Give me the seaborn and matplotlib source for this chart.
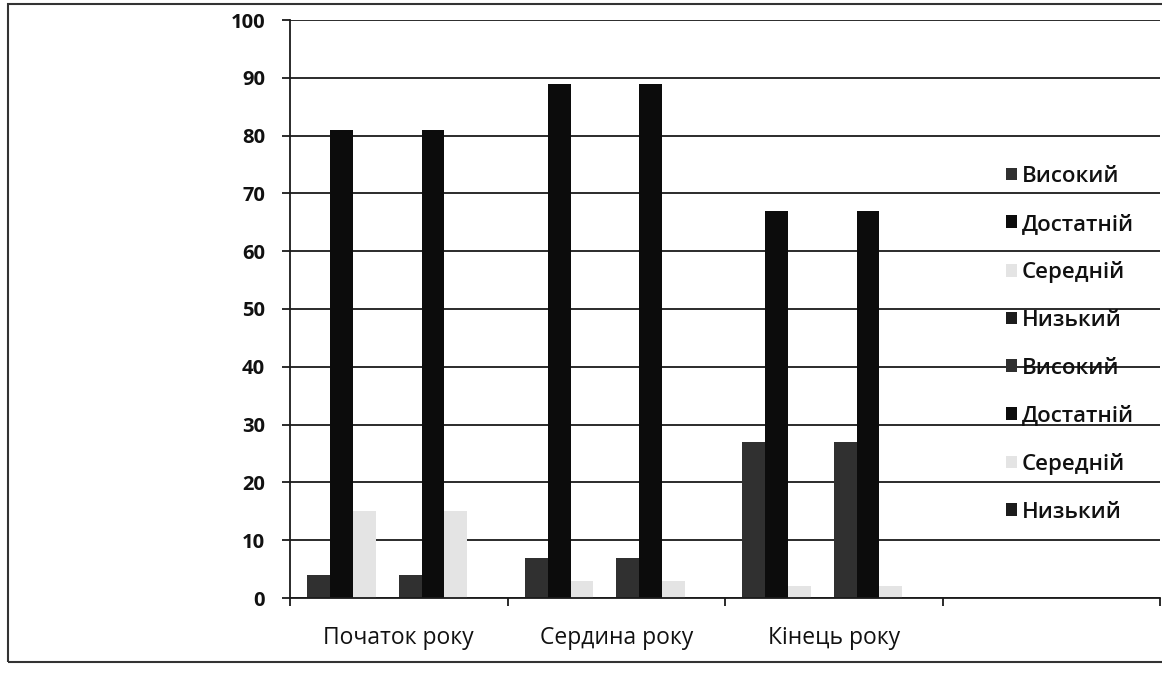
import numpy as np
import pandas as pd
import matplotlib
matplotlib.use("Agg")
import matplotlib.pyplot as plt
from matplotlib.patches import Patch, Rectangle
import seaborn as sns

categories = ["Початок року", "Сердина року", "Кінець року"]
series_names = ["Високий", "Достатній", "Середній", "Низький",
                "Високий", "Достатній", "Середній", "Низький"]
vysokyi = [4, 7, 27]
dostatnii = [81, 89, 67]
serednii = [15, 3, 2]
nyzkyi = [0, 0, 0]
series_values = [vysokyi, dostatnii, serednii, nyzkyi,
                 vysokyi, dostatnii, serednii, nyzkyi]
series_colors = ["#303030", "#0c0c0c", "#e4e4e4", "#1c1c1c",
                 "#303030", "#0c0c0c", "#e4e4e4", "#1c1c1c"]
y_ticks = [0, 10, 20, 30, 40, 50, 60, 70, 80, 90, 100]

rows = []
for i, (name, vals) in enumerate(zip(series_names, series_values)):
    for cat, v in zip(categories, vals):
        rows.append({"cat": cat, "key": f"s{i}", "value": v})
df = pd.DataFrame(rows)
keys = [f"s{i}" for i in range(len(series_names))]
palette = dict(zip(keys, series_colors))

sns.set_theme(style="white")
plt.rcParams['font.family'] = ['Open Sans', 'DejaVu Sans']

fig = plt.figure(figsize=(11.62, 6.76), dpi=100)
fig.patch.set_facecolor("white")
ax = fig.add_axes([290/1162, 1-598/676, 870/1162, 578/676])

sns.barplot(data=df, x="cat", y="value", hue="key", hue_order=keys,
            order=categories, palette=palette, width=0.84,
            saturation=1, edgecolor="none", linewidth=0, ax=ax, legend=False)

ax.set_xlim(-0.5, 3.5)
ax.set_ylim(0, 100)
ax.set_yticks(y_ticks)
ax.set_yticklabels([str(t) for t in y_ticks], fontsize=14.5, fontweight="bold", color="#111")
ax.yaxis.grid(True, color="#1a1a1a", linewidth=1.3)
ax.set_axisbelow(True)
ax.tick_params(axis="y", which="major", left=True, length=6, width=1.3, color="#1a1a1a", pad=12)

ax.set_xticks([0, 1, 2])
ax.set_xticklabels(categories, fontsize=16.5, color="#111")
ax.set_xticks([-0.5, 0.5, 1.5, 2.5, 3.5], minor=True)
ax.tick_params(axis="x", which="major", length=0, pad=20)
ax.tick_params(axis="x", which="minor", bottom=True, length=6, width=1.3, color="#1a1a1a")
ax.set_xlabel("")
ax.set_ylabel("")

for side in ["top", "right"]:
    ax.spines[side].set_visible(False)
for side in ["left", "bottom"]:
    ax.spines[side].set_color("#1a1a1a")
    ax.spines[side].set_linewidth(1.3)

handles = [Patch(facecolor=c, edgecolor="none") for c in series_colors]
leg = fig.legend(handles, series_names, loc="upper left",
                 bbox_to_anchor=(997/1162, 1-157/676), frameon=False,
                 prop={"size": 16, "weight": "semibold"},
                 handlelength=0.5, handleheight=0.5,
                 handletextpad=0.2, labelspacing=1.2, borderaxespad=0)
for t in leg.get_texts():
    t.set_color("#111")

fig.patches.append(Rectangle((8/1162, 1-662/676), 1.0, (662-4)/676,
                             transform=fig.transFigure, fill=False,
                             edgecolor="#333", linewidth=1.5, zorder=10))

fig.savefig("out.png", dpi=100, facecolor="white")
